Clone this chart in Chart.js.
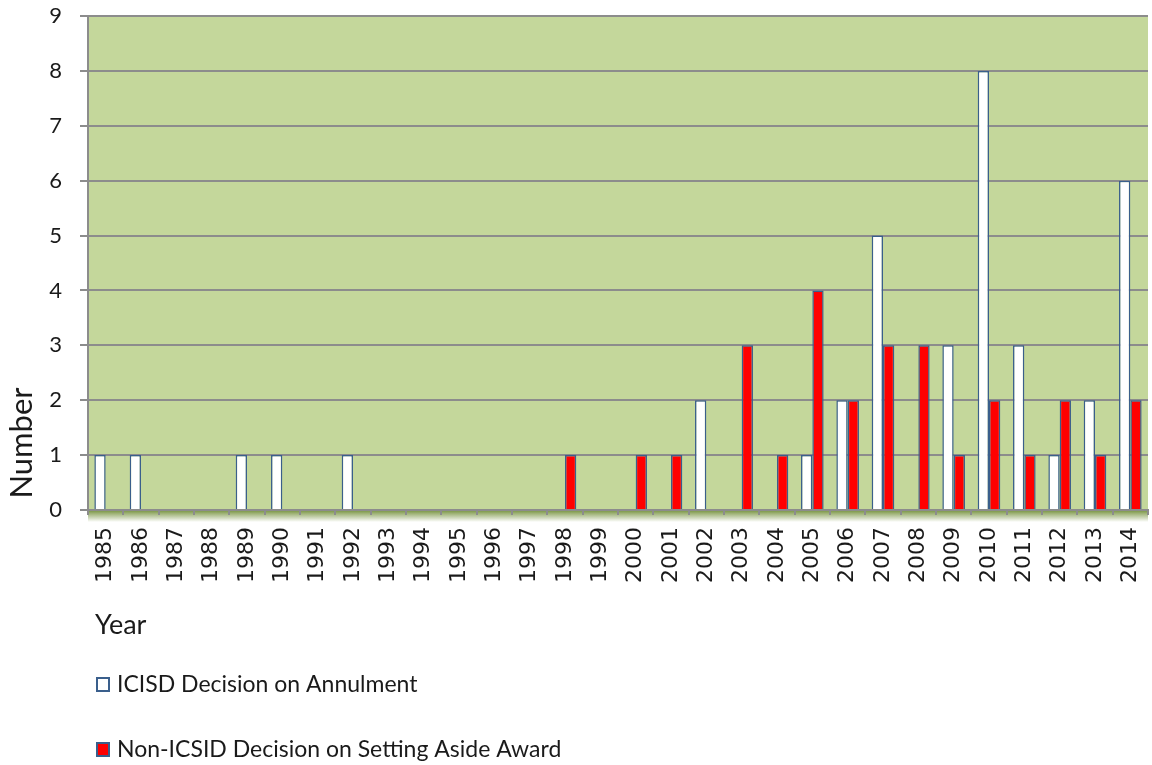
<!DOCTYPE html>
<html>
<head>
<meta charset="utf-8">
<script src="https://cdn.jsdelivr.net/npm/chart.js@4"></script>
<style>
  html, body { margin: 0; padding: 0; background: #ffffff; }
  #wrap { width: 1152px; height: 765px; position: relative; }
</style>
</head>
<body>
<div id="wrap"><canvas id="c" width="1152" height="765"></canvas></div>
<script>
const years = ['1985','1986','1987','1988','1989','1990','1991','1992','1993','1994','1995','1996','1997','1998','1999','2000','2001','2002','2003','2004','2005','2006','2007','2008','2009','2010','2011','2012','2013','2014'];
const icsidAnnulment = [1,1,0,0,1,1,0,1,0,0,0,0,0,0,0,0,0,2,0,0,1,2,5,0,3,8,3,1,2,6];
const nonIcsidSettingAside = [0,0,0,0,0,0,0,0,0,0,0,0,0,1,0,1,1,0,3,1,4,2,3,3,1,2,1,2,1,2];
const seriesNames = ['ICISD Decision on Annulment', 'Non-ICSID Decision on Setting Aside Award'];
const xTitle = 'Year';
const yTitle = 'Number';

const GRID = '#8c8c8c';
const TEXT = '#1a1a1a';

const decorPlugin = {
  id: 'decor',
  beforeDraw(chart) {
    const { ctx, chartArea: a } = chart;
    ctx.save();
    const g = ctx.createLinearGradient(0, a.bottom, 0, a.bottom + 12);
    g.addColorStop(0, 'rgba(110,140,50,0.95)');
    g.addColorStop(1, 'rgba(110,140,50,0)');
    ctx.fillStyle = g;
    ctx.fillRect(a.left, a.bottom, a.right - a.left, 12);
    ctx.fillStyle = '#c4d79b';
    ctx.fillRect(a.left, a.top, a.right - a.left, a.bottom - a.top);
    ctx.restore();
  },
  afterDraw(chart) {
    const { ctx } = chart;
    ctx.save();
    ctx.fillStyle = TEXT;
    ctx.font = '31px Lato';
    ctx.textAlign = 'center';
    ctx.textBaseline = 'middle';
    ctx.translate(22, 443);
    ctx.rotate(-Math.PI / 2);
    ctx.fillText(yTitle, 0, 0);
    ctx.restore();

    ctx.save();
    ctx.fillStyle = TEXT;
    ctx.font = '27px Lato';
    ctx.textAlign = 'left';
    ctx.textBaseline = 'middle';
    ctx.fillText(xTitle, 95, 625);

    ctx.font = '23px Lato';
    const rows = [685, 750];
    chart.data.datasets.forEach((ds, i) => {
      const y = rows[i];
      ctx.fillStyle = ds.backgroundColor;
      ctx.fillRect(97, y - 7, 12, 13);
      ctx.strokeStyle = ds.borderColor;
      ctx.lineWidth = 2;
      ctx.strokeRect(97, y - 7, 12, 13);
      ctx.fillStyle = TEXT;
      ctx.fillText(ds.label, 117, y);
    });
    ctx.restore();
  }
};

new Chart(document.getElementById('c'), {
  type: 'bar',
  data: {
    labels: years,
    datasets: [
      { label: seriesNames[0], data: icsidAnnulment, backgroundColor: '#ffffff', borderColor: '#3a5f8c', borderWidth: 1.5, borderSkipped: 'bottom' },
      { label: seriesNames[1], data: nonIcsidSettingAside, backgroundColor: '#ff0000', borderColor: '#3a5f8c', borderWidth: 1.5, borderSkipped: 'bottom' }
    ]
  },
  options: {
    responsive: false,
    animation: false,
    devicePixelRatio: 1,
    layout: { padding: { left: 0, right: 4, top: 16, bottom: 165 } },
    plugins: { legend: { display: false }, tooltip: { enabled: false } },
    datasets: { bar: { categoryPercentage: 0.64, barPercentage: 1.0 } },
    scales: {
      x: {
        offset: true,
        grid: { display: true, drawOnChartArea: false, drawTicks: true, tickLength: 5, color: GRID, lineWidth: 2, offset: true },
        border: { display: true, color: GRID, width: 2 },
        ticks: { color: TEXT, font: { family: 'DejaVu Sans', size: 22 }, minRotation: 90, maxRotation: 90, padding: 12, autoSkip: false },
        afterFit(scale) { scale.height = 90; scale.paddingLeft = 0; scale.paddingRight = 0; }
      },
      y: {
        min: 0, max: 9,
        grid: { color: GRID, lineWidth: 2, tickLength: 8, drawTicks: true },
        border: { display: true, color: GRID, width: 2 },
        ticks: { stepSize: 1, color: TEXT, font: { family: 'Lato', size: 22 }, padding: 18 },
        afterFit(scale) { scale.width = 88; scale.paddingTop = 0; scale.paddingBottom = 0; }
      }
    }
  },
  plugins: [decorPlugin]
});
</script>
</body>
</html>
